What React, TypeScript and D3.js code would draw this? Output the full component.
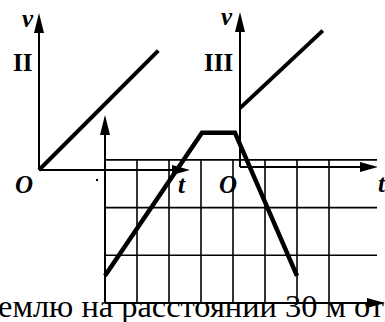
import React from 'react';
import * as d3 from 'd3';

// Panel II: v(t) starting at zero
const panel2Line = [
  { t: 0, v: 0 },
  { t: 0.79, v: 0.76 },
];
// Panel III: v(t) with a non-zero start
const panel3Line = [
  { t: 0, v: 0.38 },
  { t: 0.6, v: 0.88 },
];
// Grid panel: trapezoid path, in grid cells
const gridPath = [
  { x: 0, y: 0.57 },
  { x: 3.03, y: 3.57 },
  { x: 4.06, y: 3.57 },
  { x: 6, y: 0.57 },
];
const gridCols = [1, 2, 3, 4, 5, 6, 7];
const gridRows = [1, 2, 3];
const caption = 'емлю на расстоянии 30 м от';

const W = 385;
const H = 322;

const serif = "'Liberation Serif', 'Times New Roman', 'DejaVu Serif', serif";

function Arrow({ x, y, dir }: { x: number; y: number; dir: 'up' | 'right' }) {
  const p = dir === 'up'
    ? `M${x},${y} L${x - 5},${y + 20} L${x + 5},${y + 20} Z`
    : `M${x},${y} L${x - 18},${y - 5} L${x - 18},${y + 5} Z`;
  return <path d={p} fill="#000" />;
}

export default function App() {
  // panel II scales
  const x2 = d3.scaleLinear().domain([0, 1]).range([39, 190]);
  const y2 = d3.scaleLinear().domain([0, 1]).range([170, 13]);
  // panel III scales
  const x3 = d3.scaleLinear().domain([0, 1]).range([240, 378]);
  const y3 = d3.scaleLinear().domain([0, 1]).range([167, 12]);
  // grid scales (one unit = one cell)
  const xg = d3.scaleLinear().domain([0, 1]).range([105, 137]);
  const yg = d3.scaleLinear().domain([0, 1]).range([303, 255.3]);

  const line2 = d3.line<{ t: number; v: number }>().x(d => x2(d.t)).y(d => y2(d.v));
  const line3 = d3.line<{ t: number; v: number }>().x(d => x3(d.t)).y(d => y3(d.v));
  const lineG = d3.line<{ x: number; y: number }>().x(d => xg(d.x)).y(d => yg(d.y));

  const gridRight = 377;
  const lbl = { fontFamily: serif, fontWeight: 'bold' as const, fontSize: 25 };
  const ital = { ...lbl, fontStyle: 'italic' as const };

  return (
    <div style={{ position: 'fixed', left: 0, top: 0 }}>
      <svg width={W} height={H} style={{ display: 'block', background: '#fff' }}>
        {/* grid panel */}
        <g stroke="#000" strokeWidth={1.6}>
          {gridCols.map(c => (
            <line key={c} x1={xg(c)} x2={xg(c)} y1={yg(3)} y2={yg(0)} />
          ))}
          {gridRows.map(r => (
            <line key={r} x1={xg(0)} x2={gridRight} y1={yg(r)} y2={yg(r)} />
          ))}
        </g>
        <g stroke="#000" strokeWidth={2}>
          <line x1={xg(0)} x2={xg(0)} y1={yg(0)} y2={118} />
          <line x1={xg(0)} x2={383} y1={yg(0)} y2={yg(0)} />
        </g>
        <Arrow x={xg(0)} y={115} dir="up" />
        <Arrow x={385} y={yg(0)} dir="right" />
        <path d={lineG(gridPath) || ''} fill="none" stroke="#000" strokeWidth={4.5} strokeLinejoin="miter" />

        {/* panel II */}
        <g stroke="#000" strokeWidth={2}>
          <line x1={x2(0)} x2={x2(0)} y1={y2(0)} y2={y2(1) + 4} />
          <line x1={x2(0)} x2={x2(1) - 4} y1={y2(0)} y2={y2(0)} />
        </g>
        <Arrow x={x2(0)} y={y2(1)} dir="up" />
        <Arrow x={x2(1)} y={y2(0)} dir="right" />
        <path d={line2(panel2Line) || ''} fill="none" stroke="#000" strokeWidth={4} />

        {/* panel III */}
        <g stroke="#000" strokeWidth={2}>
          <line x1={x3(0)} x2={x3(0)} y1={y3(0)} y2={y3(1) + 4} />
          <line x1={x3(0)} x2={x3(1) - 4} y1={y3(0)} y2={y3(0)} />
        </g>
        <Arrow x={x3(0)} y={y3(1)} dir="up" />
        <Arrow x={x3(1)} y={y3(0)} dir="right" />
        <path d={line3(panel3Line) || ''} fill="none" stroke="#000" strokeWidth={4} />

        {/* labels */}
        <g fill="#000">
          <text x={22} y={27} style={ital}>v</text>
          <text x={13} y={71} style={lbl}>II</text>
          <text x={15} y={193} style={ital}>O</text>
          <text x={178} y={193} style={ital}>t</text>
          <text x={221} y={25} style={ital}>v</text>
          <text x={204} y={71} style={lbl}>III</text>
          <text x={219} y={193} style={ital}>O</text>
          <text x={378} y={192} style={ital}>t</text>
        </g>
        <circle cx={97} cy={180} r={1.2} fill="#000" />
        <text x={-2} y={317} fill="#000" style={{ fontFamily: serif, fontSize: 31 }}
          textLength={386} lengthAdjust="spacingAndGlyphs">{caption}</text>
      </svg>
    </div>
  );
}
